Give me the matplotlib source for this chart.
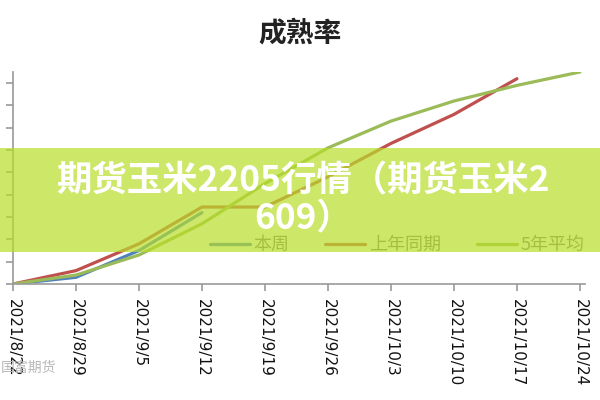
import matplotlib
matplotlib.use("Agg")
from matplotlib import pyplot as plt
from matplotlib.patches import Rectangle

plt.rcParams["font.family"] = ["Noto Sans CJK SC", "DejaVu Sans"]

DATES = ["2021/8/22", "2021/8/29", "2021/9/5", "2021/9/12", "2021/9/19",
         "2021/9/26", "2021/10/3", "2021/10/10", "2021/10/17", "2021/10/24"]
THIS_WEEK = [0, 3, 15, 32]
LAST_YEAR = [0, 6, 18, 34.5, 34.5, 48, 63, 76, 92]
AVG_5Y = [0, 4, 13, 27, 45, 61, 73, 82, 89, 95]
Y_TICKS = [0, 10, 20, 30, 40, 50, 60, 70, 80, 90]

TITLE = "成熟率"
LABELS = ["本周", "上年同期", "5年平均"]
COLORS = ["#4f81bd", "#c0504d", "#9bbb59"]
OVERLAY = "期货玉米2205行情（期货玉米2\n609）"

W, H, DPI = 600, 400, 100

fig = plt.figure(figsize=(W / DPI, H / DPI), dpi=DPI)
ax = fig.add_axes([13 / W, 1 - 284 / H, 572 / W, 212 / H])

for vals, lab, col in zip([THIS_WEEK, LAST_YEAR, AVG_5Y], LABELS, COLORS):
    ax.plot(range(len(vals)), vals, color=col, lw=2.3, label=lab,
            solid_capstyle="round")

ax.set_xlim(0, 9.08)
ax.set_ylim(0, 95)
ax.set_xticks(range(len(DATES)))
ax.set_xticklabels(DATES, rotation=-90, family="DejaVu Sans", fontsize=11,
                   va="top", ha="center")
ax.set_yticks(Y_TICKS)
ax.set_yticklabels([])
for s in ["top", "right"]:
    ax.spines[s].set_visible(False)
for s in ["left", "bottom"]:
    ax.spines[s].set_color("#999999")
    ax.spines[s].set_linewidth(1.2)
ax.tick_params(colors="#999999", length=5, width=1.2)
ax.tick_params(axis="x", labelcolor="#111111", pad=6)

leg = ax.legend(loc="center", bbox_to_anchor=(397 / W, 1 - 245 / H),
                bbox_transform=fig.transFigure, ncol=3, frameon=False,
                fontsize=13, handlelength=2.2, handletextpad=0.2,
                columnspacing=2.0)
for t in leg.get_texts():
    t.set_color("#777777")

fig.text(0.5, 1 - 33 / H, TITLE, ha="center", va="center", fontsize=20,
         fontweight="bold", color="#222222")

# translucent banner over the plot
fig.patches.append(Rectangle((0, 1 - 252 / H), 1, 104 / H,
                             transform=fig.transFigure, color="#b8de29",
                             alpha=0.7, zorder=5, lw=0))
fig.text(0.505, 1 - 200 / H, OVERLAY, ha="center", va="center", fontsize=25.5,
         fontweight="bold", color="white", linespacing=1.08, zorder=6)

# watermark
fig.text(1 / W, 1 - 368 / H, "国富期货", ha="left", va="center", fontsize=10,
         color="#b8b8b8", zorder=0)

fig.savefig("out.png", dpi=DPI)
